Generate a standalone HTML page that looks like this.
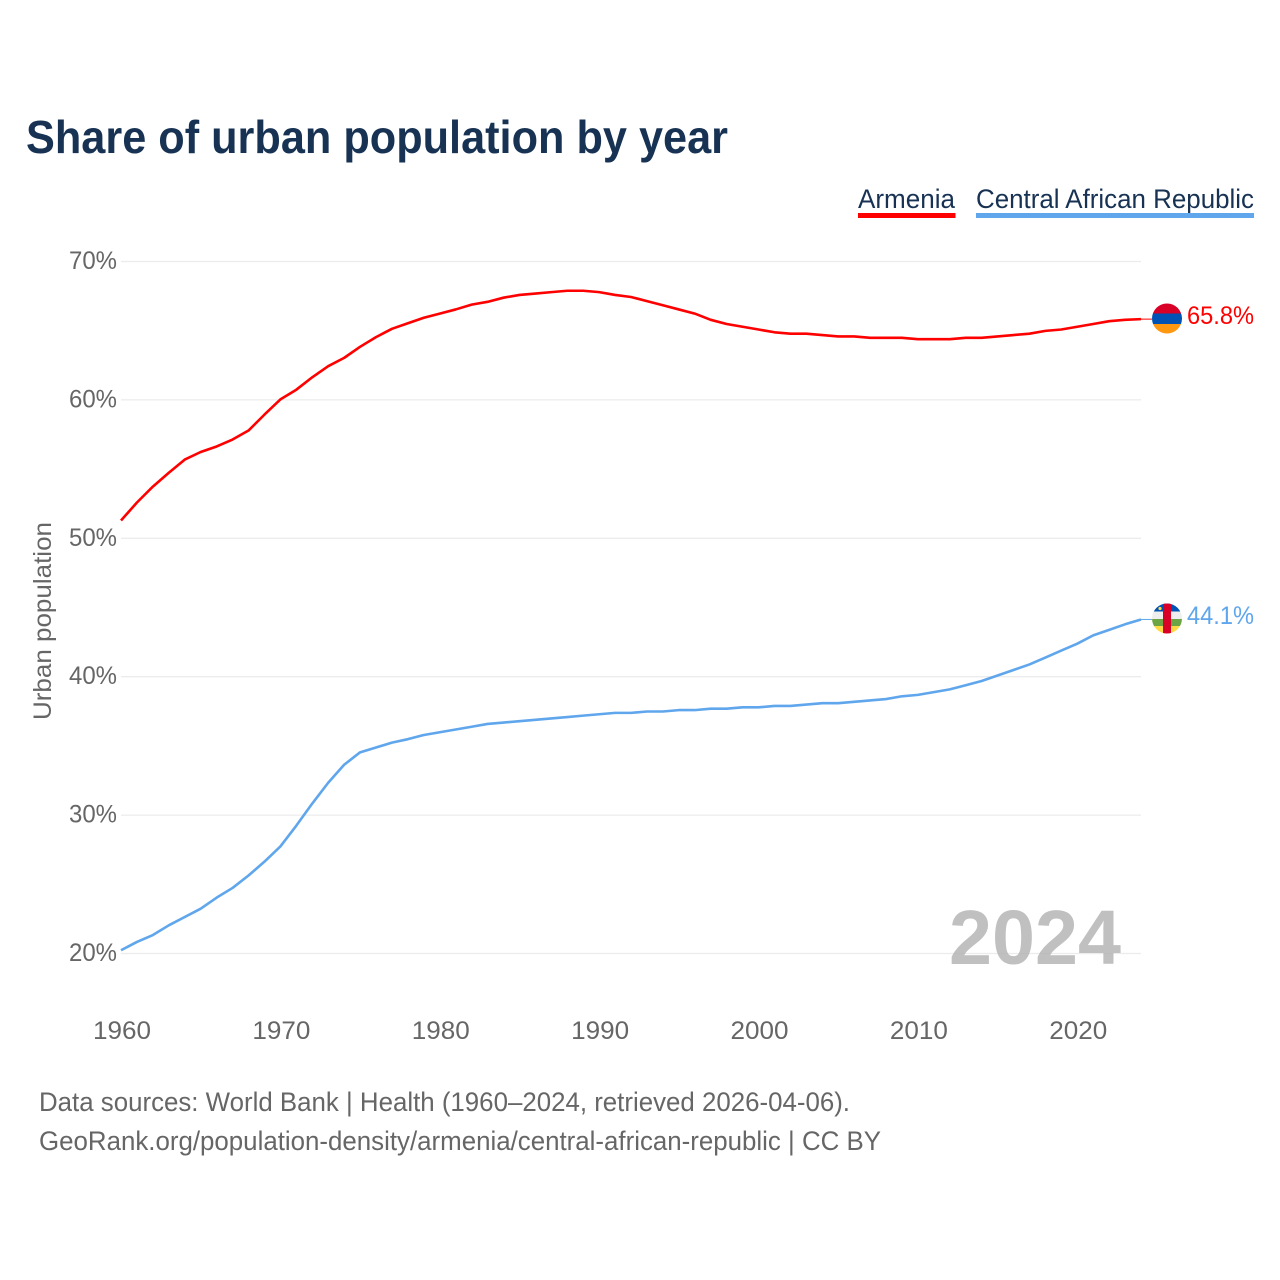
<!DOCTYPE html>
<html lang="en">
<head>
<meta charset="utf-8">
<title>Share of urban population by year</title>
<style>
html,body{margin:0;padding:0;background:#fff;width:1280px;height:1280px;overflow:hidden}
svg{display:block}
text{font-family:"Liberation Sans",sans-serif}
</style>
</head>
<body>
<svg id="chart" xmlns="http://www.w3.org/2000/svg" width="1280" height="1280" viewBox="0 0 1280 1280">
  <defs>
    <clipPath id="clip-am"><circle cx="1167" cy="318.5" r="15"/></clipPath>
    <clipPath id="clip-cf"><circle cx="1167" cy="618.5" r="15"/></clipPath>
  </defs>
  <rect x="0" y="0" width="1280" height="1280" fill="#fff"/>
  <text x="26" y="153" font-size="46" font-weight="700" fill="#173253" textLength="702" lengthAdjust="spacingAndGlyphs">Share of urban population by year</text>

  <g>
    <g>
      <text x="858" y="208" font-size="27" fill="#173253" textLength="97" lengthAdjust="spacingAndGlyphs">Armenia</text>
      <rect x="858" y="213" width="97.5" height="5" fill="#ff0000"/>
    </g>
    <g>
      <text x="976" y="208" font-size="27" fill="#173253" textLength="278" lengthAdjust="spacingAndGlyphs">Central African Republic</text>
      <rect x="976" y="213" width="278" height="5" fill="#5fa6ec"/>
    </g>
  </g>

  <g id="grid"></g>
  <g id="yticks"></g>
  <g id="xticks"></g>
  <text transform="translate(51,621) rotate(-90)" text-anchor="middle" font-size="25" fill="#666" textLength="198" lengthAdjust="spacingAndGlyphs">Urban population</text>

  <g id="series"></g>

  <text x="949" y="964" font-size="77" font-weight="700" fill="#b0b0b0" fill-opacity="0.8" textLength="172" lengthAdjust="spacingAndGlyphs">2024</text>

  <g clip-path="url(#clip-am)">
    <rect x="1150" y="303" width="34" height="10.5" fill="#d80027"/>
    <rect x="1150" y="313.5" width="34" height="10.5" fill="#0052b4"/>
    <rect x="1150" y="324" width="34" height="11" fill="#ff9811"/>
  </g>
  <g clip-path="url(#clip-cf)">
    <rect x="1150" y="603" width="34" height="8.5" fill="#0052b4"/>
    <rect x="1150" y="611.5" width="34" height="7.5" fill="#eeeeee"/>
    <rect x="1150" y="619" width="34" height="7" fill="#6da544"/>
    <rect x="1150" y="626" width="34" height="9" fill="#ffda44"/>
    <rect x="1163" y="603" width="8" height="32" fill="#d80027"/>
    <circle cx="1160" cy="608.5" r="1.6" fill="#ffda44"/>
  </g>
  <text id="value-am" x="1187" y="324" font-size="25" fill="#ff0000" textLength="67" lengthAdjust="spacingAndGlyphs"></text>
  <text id="value-cf" x="1187" y="624" font-size="25" fill="#5fa6ec" textLength="67" lengthAdjust="spacingAndGlyphs"></text>

  <text x="39" y="1111" font-size="27" fill="#666" textLength="811" lengthAdjust="spacingAndGlyphs">Data sources: World Bank | Health (1960–2024, retrieved 2026-04-06).</text>
  <text x="39" y="1150" font-size="27" fill="#666" textLength="842" lengthAdjust="spacingAndGlyphs">GeoRank.org/population-density/armenia/central-african-republic | CC BY</text>
</svg>
<script>
const firstYear = 1960;
const xTickLabels = [1960, 1970, 1980, 1990, 2000, 2010, 2020];
const yTickLabels = [20, 30, 40, 50, 60, 70];
const armeniaValues = [
  51.25, 52.55, 53.7, 54.7, 55.65, 56.2, 56.6, 57.1, 57.75, 58.9,
  60.0, 60.7, 61.6, 62.4, 63.0, 63.8, 64.5, 65.1, 65.5, 65.9,
  66.2, 66.5, 66.85, 67.05, 67.35, 67.55, 67.65, 67.75, 67.85, 67.85,
  67.75, 67.55, 67.4, 67.1, 66.8, 66.5, 66.2, 65.75, 65.45, 65.25,
  65.05, 64.85, 64.75, 64.75, 64.65, 64.55, 64.55, 64.45, 64.45, 64.45,
  64.35, 64.35, 64.35, 64.45, 64.45, 64.55, 64.65, 64.75, 64.95, 65.05,
  65.25, 65.45, 65.65, 65.75, 65.8
];
const carValues = [
  20.2, 20.8, 21.3, 22.0, 22.6, 23.2, 24.0, 24.7, 25.6, 26.6,
  27.7, 29.2, 30.8, 32.3, 33.6, 34.5, 34.85, 35.2, 35.45, 35.75,
  35.95, 36.15, 36.35, 36.55, 36.65, 36.75, 36.85, 36.95, 37.05, 37.15,
  37.25, 37.35, 37.35, 37.45, 37.45, 37.55, 37.55, 37.65, 37.65, 37.75,
  37.75, 37.85, 37.85, 37.95, 38.05, 38.05, 38.15, 38.25, 38.35, 38.55,
  38.65, 38.85, 39.05, 39.35, 39.65, 40.05, 40.45, 40.85, 41.35, 41.85,
  42.35, 42.95, 43.35, 43.75, 44.1
];

const NS = 'http://www.w3.org/2000/svg';
function xScale(year) { return 121 + (year - 1960) * (1020 / 64); }
function yScale(v) { return 953 - (v - 20) * (692 / 50); }
function make(tag, attrs, parent) {
  const el = document.createElementNS(NS, tag);
  for (const k in attrs) el.setAttribute(k, attrs[k]);
  parent.appendChild(el);
  return el;
}

const grid = document.getElementById('grid');
const yticks = document.getElementById('yticks');
const xticks = document.getElementById('xticks');
const series = document.getElementById('series');

yTickLabels.forEach(function (v) {
  const line = make('line', { x1: 121, x2: 1141, y1: yScale(v) + 0.5, y2: yScale(v) + 0.5, stroke: '#ececec', 'stroke-width': 1.3 }, grid);
  
  
  const t = make('text', { x: 69, y: yScale(v) + 8, 'font-size': 25, fill: '#666', textLength: 48, lengthAdjust: 'spacingAndGlyphs' }, yticks);
  
  
  t.textContent = v + '%';
});

xTickLabels.forEach(function (y) {
  const t = make('text', { x: xScale(y) - 28, y: 1039, 'font-size': 25, fill: '#666', textLength: 58, lengthAdjust: 'spacingAndGlyphs' }, xticks);
  
  
  t.textContent = y;
});

function drawSeries(values, color) {
  const pts = values.map(function (v, i) {
    return xScale(firstYear + i).toFixed(2) + ',' + yScale(v).toFixed(2);
  }).join(' ');
  const line = make('polyline', { points: pts, fill: 'none', stroke: color, 'stroke-width': 2.6, 'stroke-linejoin': 'round' }, series);
  
  
  const lastY = yScale(values[values.length - 1]);
  const leader = make('line', { x1: 1141, x2: 1152, y1: lastY, y2: lastY, stroke: color, 'stroke-width': 1 }, series);
  
  
}
drawSeries(armeniaValues, '#ff0000');
drawSeries(carValues, '#5fa6ec');

document.getElementById('value-am').textContent = armeniaValues[armeniaValues.length - 1].toFixed(1) + '%';
document.getElementById('value-cf').textContent = carValues[carValues.length - 1].toFixed(1) + '%';
</script>
</body>
</html>
